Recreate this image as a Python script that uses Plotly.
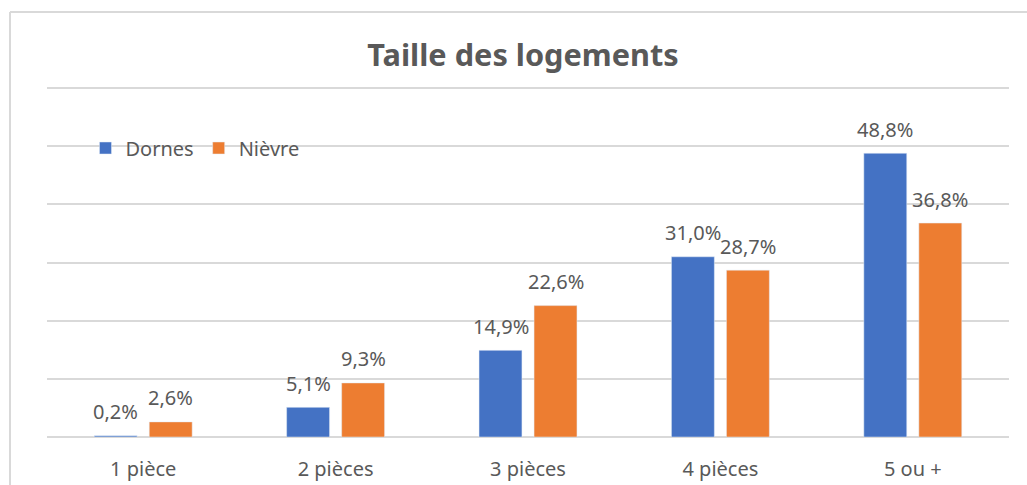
import plotly.graph_objects as go

# ---------- données ----------
categories = ["1 pièce", "2 pièces", "3 pièces", "4 pièces", "5 ou +"]
dornes = [0.2, 5.1, 14.9, 31.0, 48.8]
nievre = [2.6, 9.3, 22.6, 28.7, 36.8]

BLEU = "#4472C4"
ORANGE = "#ED7D31"
GRIS_TXT = "#595959"
GRIS_GRILLE = "#D9D9D9"
POLICE = "Noto Sans"


def fmt(v):
    return f"{v:.1f}".replace(".", ",") + "%"


fig = go.Figure()
fig.add_bar(x=categories, y=dornes, name="Dornes", marker_color=BLEU)
fig.add_bar(x=categories, y=nievre, name="Nièvre", marker_color=ORANGE)

# étiquettes de données au-dessus des barres
for serie, shift in ((dornes, -27.5), (nievre, 27.5)):
    for cat, v in zip(categories, serie):
        fig.add_annotation(
            x=cat, y=v, text=fmt(v), showarrow=False,
            xshift=shift, yshift=24,
            font=dict(size=20, color=GRIS_TXT, family=POLICE),
        )

# cadre du graphique (coin haut-gauche visible)
H_PLOT = 350
fig.add_shape(type="line", xref="paper", yref="paper",
              x0=(10 - 47) / 962, x1=(10 - 47) / 962, y0=-0.2, y1=(437 - 12) / H_PLOT,
              line=dict(color=GRIS_GRILLE, width=2))
fig.add_shape(type="line", xref="paper", yref="paper",
              x0=(10 - 47) / 962, x1=1.1, y0=(437 - 12) / H_PLOT, y1=(437 - 12) / H_PLOT,
              line=dict(color=GRIS_GRILLE, width=2))

fig.update_layout(
    width=1027, height=485,
    barmode="group", bargap=0.428, bargroupgap=0.22,
    paper_bgcolor="white", plot_bgcolor="white",
    margin=dict(l=47, r=18, t=87, b=48),
    font=dict(family=POLICE, color=GRIS_TXT),
    title=dict(text="<b>Taille des logements</b>", x=523 / 1027, xanchor="center",
               y=1 - 55 / 485, yanchor="middle",
               font=dict(size=30.7, color=GRIS_TXT, family=POLICE)),
    legend=dict(orientation="h", x=0.04, y=(437 - 148) / H_PLOT, xanchor="left",
                yanchor="middle",
                font=dict(size=20, color=GRIS_TXT), bgcolor="rgba(0,0,0,0)",
                itemwidth=30, tracegroupgap=0),
    showlegend=True,
)
fig.update_xaxes(showgrid=False, showline=False, ticks="", ticklabelstandoff=18,
                 automargin=False, tickfont=dict(size=20, color=GRIS_TXT))
fig.update_yaxes(range=[0, 60.2], tickvals=[10, 20, 30, 40, 50, 60],
                 showticklabels=False, showgrid=True, automargin=False,
                 gridcolor=GRIS_GRILLE, gridwidth=1.5, zeroline=True,
                 zerolinecolor=GRIS_GRILLE, zerolinewidth=1.5)

fig.write_html("out.html", config={"displayModeBar": False},
               post_script="document.body.style.margin='0';")
